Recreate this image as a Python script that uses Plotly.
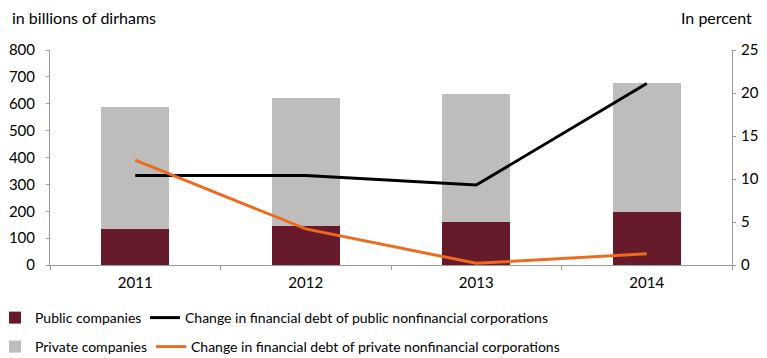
import plotly.graph_objects as go

years = ["2011", "2012", "2013", "2014"]
public_cos = [134, 145, 161, 198]
total_cos = [588, 620, 636, 677]
private_cos = [t - p for t, p in zip(total_cos, public_cos)]
chg_public = [10.4, 10.4, 9.3, 21.1]
chg_private = [12.2, 4.2, 0.2, 1.3]

FONT = "Lato, Roboto, sans-serif"
AXIS_GREY = "#9a9a9a"
W, H = 759, 350  # page body has an 8px margin
L, R, T, B = 42, 35, 42, 93
PW = W - L - R

fig = go.Figure()
fig.add_trace(go.Bar(x=years, y=public_cos, name="Public companies",
                     marker=dict(color="#661a2a", line=dict(width=0)),
                     width=0.4, legend="legend"))
fig.add_trace(go.Bar(x=years, y=private_cos, name="Private companies",
                     marker=dict(color="#bfbdbb", line=dict(width=0)),
                     width=0.4, legend="legend3"))
fig.add_trace(go.Scatter(x=years, y=chg_public, yaxis="y2", mode="lines",
                         name="Change in financial debt of public nonfinancial corporations",
                         line=dict(color="#000000", width=3), legend="legend2"))
fig.add_trace(go.Scatter(x=years, y=chg_private, yaxis="y2", mode="lines",
                         name="Change in financial debt of private nonfinancial corporations",
                         line=dict(color="#ee6a1f", width=3), legend="legend4"))

leg_common = dict(orientation="h", xref="paper", yref="container",
                  xanchor="left", yanchor="middle", font=dict(size=14),
                  itemwidth=30, traceorder="normal", visible=True,
                  bgcolor="rgba(0,0,0,0)", borderwidth=0)
row1 = 1 - 310 / H
row2 = 1 - 339 / H


def px(fig_x):
    return (fig_x - L) / PW


fig.update_layout(
    width=W, height=H,
    showlegend=True,
    margin=dict(l=L, r=R, t=T, b=B, autoexpand=False),
    paper_bgcolor="white", plot_bgcolor="white",
    barmode="stack",
    font=dict(family=FONT, size=15, color="#000000"),
    xaxis=dict(type="category", showgrid=False, showline=True, linecolor=AXIS_GREY,
               linewidth=1, ticks="outside", tickson="boundaries", ticklen=4,
               tickcolor=AXIS_GREY, tickfont=dict(size=15), ticklabelstandoff=4),
    yaxis=dict(range=[0, 800], dtick=100, showgrid=False, showline=True,
               linecolor=AXIS_GREY, linewidth=1, ticks="outside", ticklen=3,
               tickcolor=AXIS_GREY, zeroline=False, tickfont=dict(size=15),
               ticklabelstandoff=8),
    yaxis2=dict(range=[0, 25], dtick=5, overlaying="y", side="right",
                showgrid=False, showline=True, linecolor=AXIS_GREY, linewidth=1,
                ticks="outside", ticklen=3, tickcolor=AXIS_GREY, zeroline=False,
                tickfont=dict(size=15), ticklabelstandoff=2),
    legend=dict(leg_common, x=px(-13), y=row1),
    legend2=dict(leg_common, x=px(137), y=row1),
    legend3=dict(leg_common, x=px(-13), y=row2),
    legend4=dict(leg_common, x=px(143), y=row2),
    annotations=[
        dict(text="in billions of dirhams", xref="paper", yref="paper",
             x=-0.0587, y=1.149, xanchor="left", yanchor="middle", showarrow=False,
             font=dict(size=16)),
        dict(text="In percent", xref="paper", yref="paper",
             x=1.032, y=1.149, xanchor="right", yanchor="middle", showarrow=False,
             font=dict(size=16)),
    ],
)

fig.write_html("out.html")
